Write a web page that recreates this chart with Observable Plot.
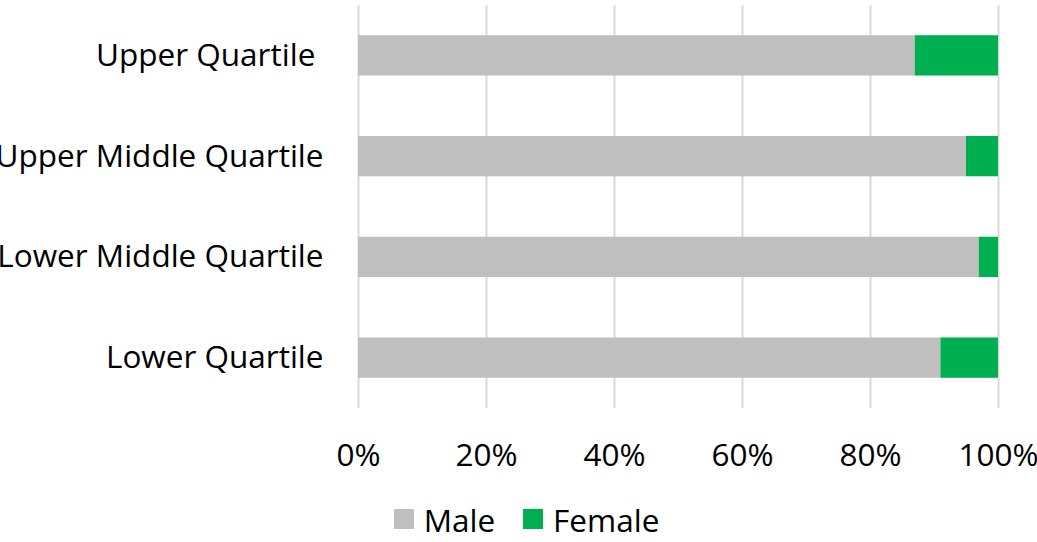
<!DOCTYPE html>
<html>
<head>
<meta charset="utf-8">
<script src="https://cdn.jsdelivr.net/npm/d3@7"></script>
<script src="https://cdn.jsdelivr.net/npm/@observablehq/plot@0.6"></script>
<style>
  html, body { margin: 0; padding: 0; background: #fff; }
  body { width: 1037px; height: 542px; overflow: hidden; font-family: "Open Sans", sans-serif; }
  #chart svg { overflow: visible; display: block; }
  .legend { display: flex; justify-content: center; align-items: center; margin-top: 24px; height: 30px; padding-left: 16px; font-size: 31.5px; color: #000; }
  .legend .item { display: flex; align-items: center; margin: 0 14px; }
  .legend .sw { width: 20px; height: 20px; margin-right: 10px; }
</style>
</head>
<body>
<div id="chart"></div>
<script>
const categories = ["Upper Quartile\u00a0", "Upper Middle Quartile", "Lower Middle Quartile", "Lower Quartile"];
const male = [87, 95, 97, 91];
const female = [13, 5, 3, 9];
const seriesNames = ["Male", "Female"];
const seriesColors = ["#bfbfbf", "#00b050"];
const xTicks = [0, 20, 40, 60, 80, 100];

const data = [];
categories.forEach((c, i) => {
  data.push({category: c, series: "Male", value: male[i]});
  data.push({category: c, series: "Female", value: female[i]});
});

const chart = Plot.plot({
  width: 1037,
  height: 480,
  marginLeft: 358,
  marginRight: 39,
  marginTop: 5,
  marginBottom: 72,
  style: {fontFamily: "Open Sans", fontSize: "31.5px", color: "#000", background: "#fff"},
  x: {domain: [0, 100], ticks: xTicks, tickFormat: d => d + "%", tickSize: 0, tickPadding: 35, label: null},
  y: {domain: categories, tickSize: 0, tickPadding: 35, label: null, paddingInner: 0.6, paddingOuter: 0.3, round: false},
  color: {domain: seriesNames, range: seriesColors},
  marks: [
    Plot.gridX(xTicks, {stroke: "#d9d9d9", strokeOpacity: 1, strokeWidth: 2}),
    Plot.barX(data, Plot.stackX({y: "category", x: "value", fill: "series", order: seriesNames})),
    Plot.axisX({ticks: xTicks, tickFormat: d => d + "%", tickSize: 0, tickPadding: 35, label: null}),
    Plot.axisY({tickSize: 0, tickPadding: 35, label: null})
  ]
});
document.getElementById("chart").appendChild(chart);

const legend = document.createElement("div");
legend.className = "legend";
seriesNames.forEach((name, i) => {
  const item = document.createElement("div");
  item.className = "item";
  const sw = document.createElement("span");
  sw.className = "sw";
  sw.style.background = seriesColors[i];
  const t = document.createElement("span");
  t.textContent = name;
  item.appendChild(sw);
  item.appendChild(t);
  legend.appendChild(item);
});
document.body.appendChild(legend);
</script>
</body>
</html>
